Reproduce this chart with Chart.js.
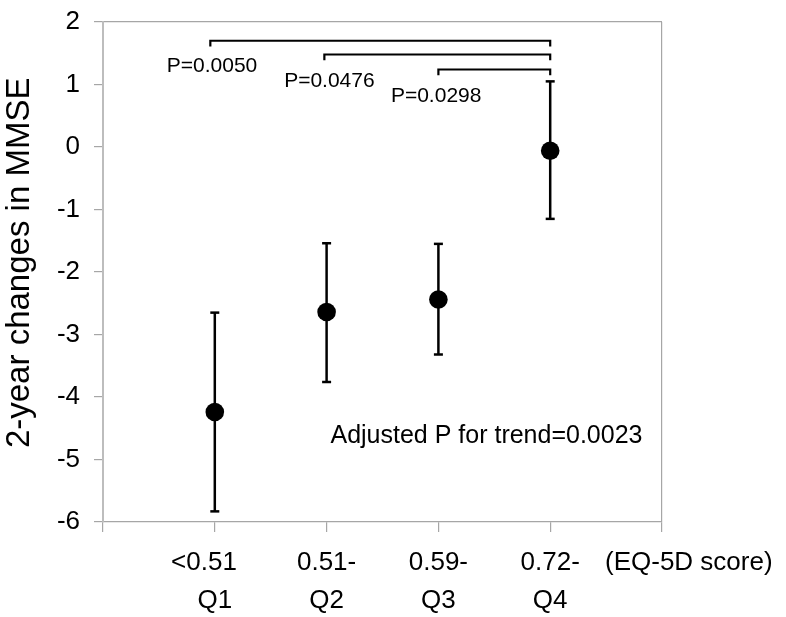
<!DOCTYPE html>
<html>
<head>
<meta charset="utf-8">
<script src="https://cdn.jsdelivr.net/npm/chart.js"></script>
<style>
  html, body { margin: 0; padding: 0; background: #fff; }
  #wrap { width: 786px; height: 617px; }
</style>
</head>
<body>
<div id="wrap"><canvas id="chart" width="786" height="617"></canvas></div>
<script>
// EQ-5D quartiles vs 2-year MMSE change
const scoreLabels = ["<0.51   ", "0.51-", "0.59-", "0.72-"];
const quartiles = ["Q1", "Q2", "Q3", "Q4"];
const meanChange = [-4.24, -2.64, -2.44, -0.06];
const upperCI = [-2.65, -1.54, -1.55, 1.05];
const lowerCI = [-5.83, -3.76, -3.32, -1.15];

// pairwise comparisons (quartile index from -> to) and bracket height
const compFrom = [0.96, 1.98, 3];
const compTo = [4, 4, 4];
const compLevel = [1.70, 1.48, 1.24];
const compP = ["P=0.0050", "P=0.0476", "P=0.0298"];
const trendText = "Adjusted P for trend=0.0023";
const axisNote = "(EQ-5D score)";

// where the text notes sit, in data units
const noteLayout = {
    pX: [0.975, 2.025, 2.98],
    pY: [1.29, 1.06, 0.82],
    trendX: 3.43,
    trendY: -4.62
};

const FONT = "'Liberation Sans', Arial, Helvetica, sans-serif";
const AXIS_GRAY = "#a6a6a6";
const BRACKET_DROP = 0.09;

Chart.defaults.font.family = FONT;
Chart.defaults.color = "#000";

const xs = quartiles.map((_, i) => i + 1);

const bracketSets = compFrom.map((from, i) => ({
    data: [
        { x: from, y: compLevel[i] - BRACKET_DROP },
        { x: from, y: compLevel[i] },
        { x: compTo[i], y: compLevel[i] },
        { x: compTo[i], y: compLevel[i] - BRACKET_DROP }
    ],
    showLine: true,
    borderColor: "#000",
    borderWidth: 2.2,
    pointRadius: 0,
    tension: 0
}));

const errorSets = xs.map((x, i) => ({
    data: [{ x, y: lowerCI[i] }, { x, y: upperCI[i] }],
    showLine: true,
    borderColor: "#000",
    borderWidth: 2.5,
    pointStyle: "line",
    pointRadius: 4.5,
    pointBorderColor: "#000",
    pointBorderWidth: 2.5,
    tension: 0
}));

const meanSet = {
    data: xs.map((x, i) => ({ x, y: meanChange[i] })),
    showLine: false,
    pointStyle: "circle",
    pointRadius: 9.3,
    pointBackgroundColor: "#000",
    pointBorderColor: "#000",
    pointBorderWidth: 0
};

const notesPlugin = {
    id: "notes",
    afterDatasetsDraw(chart) {
        const { ctx, chartArea } = chart;
        const x = chart.scales.x;
        const y = chart.scales.y;
        ctx.save();
        ctx.fillStyle = "#000";
        ctx.textAlign = "center";
        ctx.textBaseline = "middle";
        ctx.font = `21px ${FONT}`;
        compP.forEach((t, i) => {
            ctx.fillText(t, x.getPixelForValue(noteLayout.pX[i]), y.getPixelForValue(noteLayout.pY[i]));
        });
        ctx.font = `25px ${FONT}`;
        ctx.fillText(trendText, x.getPixelForValue(noteLayout.trendX), y.getPixelForValue(noteLayout.trendY));
        ctx.font = `26px ${FONT}`;
        ctx.textAlign = "left";
        ctx.fillText(axisNote, chartArea.right - 57, chartArea.bottom + 41);
        ctx.restore();
    }
};

new Chart(document.getElementById("chart"), {
    type: "scatter",
    data: { datasets: [...bracketSets, ...errorSets, meanSet] },
    plugins: [notesPlugin],
    options: {
        responsive: false,
        devicePixelRatio: 1,
        animation: false,
        layout: { padding: { top: 22, right: 124, left: 0, bottom: 0 } },
        plugins: {
            legend: { display: false },
            tooltip: { enabled: false }
        },
        scales: {
            x: {
                type: "linear",
                min: 0,
                max: 5,
                afterFit: (s) => { s.height = 95; },
                ticks: {
                    stepSize: 1,
                    autoSkip: false,
                    maxRotation: 0,
                    padding: 12,
                    font: { size: 26, lineHeight: 1.46 },
                    callback: (v) => (v >= 1 && v <= 4 ? [scoreLabels[v - 1], quartiles[v - 1]] : "")
                },
                grid: {
                    drawOnChartArea: true,
                    color: (c) => (c.tick && c.tick.value === 5 ? AXIS_GRAY : "rgba(0,0,0,0)"),
                    tickColor: AXIS_GRAY,
                    tickLength: 10,
                    lineWidth: 1.2
                },
                border: { display: true, color: AXIS_GRAY, width: 1.2 }
            },
            y: {
                min: -6,
                max: 2,
                afterFit: (s) => {
                    s.width = 103;
                    s.paddingTop = 0;
                    s.paddingBottom = 0;
                },
                ticks: {
                    stepSize: 1,
                    padding: 14,
                    font: { size: 26 }
                },
                grid: {
                    drawOnChartArea: true,
                    color: (c) => (c.tick && c.tick.value === 2 ? AXIS_GRAY : "rgba(0,0,0,0)"),
                    tickColor: AXIS_GRAY,
                    tickLength: 9,
                    lineWidth: 1.2
                },
                border: { display: true, color: "#bdbdbd", width: 2 },
                title: {
                    display: true,
                    text: "  2-year changes in MMSE",
                    font: { size: 33 },
                    padding: { top: 0, bottom: 0 }
                }
            }
        }
    }
});
</script>
</body>
</html>
